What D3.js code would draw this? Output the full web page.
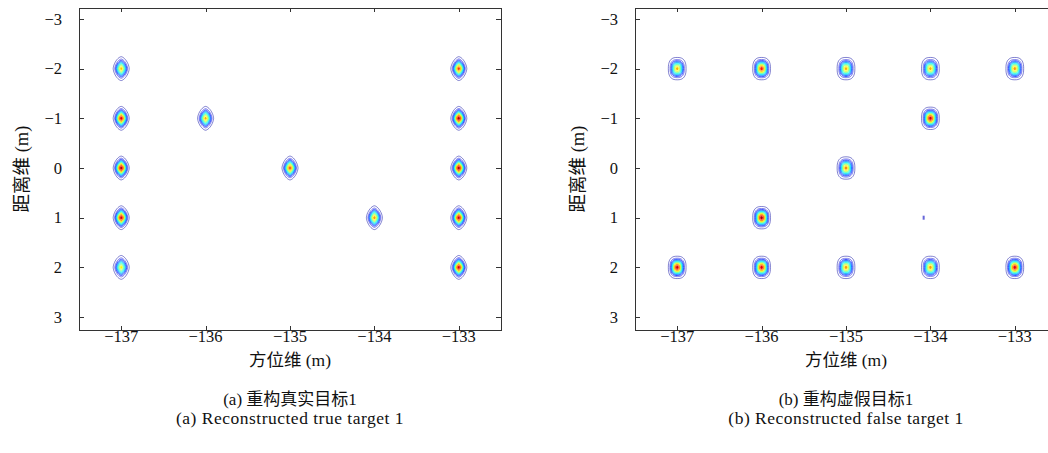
<!DOCTYPE html>
<html><head><meta charset="utf-8">
<script src="https://cdn.jsdelivr.net/npm/d3@7"></script>
<style>body{margin:0;background:#fff} svg{display:block}</style></head>
<body>
<svg id="c" width="1048" height="453"></svg>
<script>
// ---- data ----
const xTicks = [-137, -136, -135, -134, -133];
const yTicks = [-3, -2, -1, 0, 1, 2, 3];
const xDomain = [-137.5, -132.5];
const yDomain = [-3.22, 3.26];

const trueX = [-137, -137, -137, -137, -137, -136, -135, -134, -133, -133, -133, -133, -133];
const trueY = [-2, -1, 0, 1, 2, -1, 0, 1, -2, -1, 0, 1, 2];
const truePeak = [0.68, 0.9, 0.95, 0.92, 0.62, 0.7, 0.8, 0.72, 0.82, 0.95, 0.95, 0.93, 0.92];

const falseX = [-137, -136, -135, -134, -133, -134, -135, -136, -137, -136, -135, -134, -133];
const falseY = [-2, -2, -2, -2, -2, -1, 0, 1, 2, 2, 2, 2, 2];
const falsePeak = [0.7, 0.85, 0.7, 0.7, 0.72, 0.92, 0.74, 0.95, 0.92, 0.9, 0.72, 0.72, 0.9];

const spurX = [-134.08];
const spurY = [1.0];

const contourLevels = [0.03, 0.09, 0.15, 0.21, 0.27, 0.33, 0.39, 0.45, 0.51, 0.57, 0.63, 0.69, 0.75, 0.81, 0.87, 0.93];

const yLabel = "距离维 (m)";
const xLabel = "方位维 (m)";
const captionsCN = ["(a) 重构真实目标1", "(b) 重构虚假目标1"];
const captionsEN = ["(a) Reconstructed true target 1", "(b) Reconstructed false target 1"];

// ---- drawing ----
const svg = d3.select("#c");
const serif = "'Liberation Serif', 'Noto Sans CJK SC', serif";
const jet = d3.scaleLinear()
  .domain([0, 0.125, 0.375, 0.625, 0.875, 1])
  .range(["#00007f", "#0000ff", "#00ffff", "#ffff00", "#ff0000", "#7f0000"]);

function fmt(v) { return v < 0 ? "\u2212" + Math.abs(v) : String(v); }

function blobPath(cx, cy, rx, ry, n) {
  const pts = d3.range(0, 48).map(i => {
    const a = i / 48 * 2 * Math.PI;
    const c = Math.cos(a), s = Math.sin(a);
    return [cx + rx * Math.sign(c) * Math.pow(Math.abs(c), 2 / n),
            cy + ry * Math.sign(s) * Math.pow(Math.abs(s), 2 / n)];
  });
  return d3.line().curve(d3.curveLinearClosed)(pts);
}

function panel(x0, x1, idx, X, Y, P, shapeN, rxU, ryU) {
  const x = d3.scaleLinear().domain(xDomain).range([x0, x1]);
  const y = d3.scaleLinear().domain(yDomain).range([8, 330]);
  const g = svg.append("g");

  // blobs (contour lines of each peak)
  X.forEach((xv, i) => {
    const cx = x(xv), cy = y(Y[i]);
    const rx = x(xv + rxU) - cx, ry = y(Y[i] + ryU) - cy;
    const peak = P[i];
    const norm = Math.sqrt(Math.log(peak / contourLevels[0]));
    contourLevels.filter(v => v < peak).forEach(v => {
      const r = Math.sqrt(Math.log(peak / v)) / norm;
      g.append("path").attr("d", blobPath(cx, cy, rx * r, ry * r, shapeN))
        .attr("fill", "none").attr("stroke", jet(v))
        .attr("stroke-width", 0.75).attr("stroke-opacity", v < 0.1 ? 0.65 : 1);
    });
    g.append("path").attr("d", blobPath(cx, cy, rx * 0.12, ry * 0.12, shapeN))
      .attr("fill", jet(peak)).attr("stroke", "none");
  });

  // frame
  const ax = g.append("g").attr("stroke", "#333").attr("stroke-width", 1).attr("fill", "none");
  ax.append("rect").attr("x", x0 + 0.5).attr("y", 8.5).attr("width", x1 - x0).attr("height", 322);
  xTicks.forEach(v => {
    const px = Math.round(x(v)) + 0.5;
    ax.append("line").attr("x1", px).attr("x2", px).attr("y1", 330).attr("y2", 326);
    ax.append("line").attr("x1", px).attr("x2", px).attr("y1", 8).attr("y2", 12);
  });
  yTicks.forEach(v => {
    const py = Math.round(y(v)) + 0.5;
    ax.append("line").attr("x1", x0).attr("x2", x0 + 5).attr("y1", py).attr("y2", py);
    ax.append("line").attr("x1", x1).attr("x2", x1 - 5).attr("y1", py).attr("y2", py);
  });

  // tick labels
  const tl = g.append("g").attr("font-family", serif).attr("font-size", 16.5).attr("fill", "#111");
  xTicks.forEach(v => {
    tl.append("text").attr("x", x(v)).attr("y", 342).attr("text-anchor", "middle").text(fmt(v));
  });
  yTicks.forEach(v => {
    tl.append("text").attr("x", x0 - 17).attr("y", y(v)).attr("dy", "0.35em")
      .attr("text-anchor", "end").text(fmt(v));
  });

  // labels
  const cxm = (x0 + x0 + 422) / 2;
  const lt = g.append("g").attr("font-family", serif).attr("fill", "#111");
  lt.append("text").attr("x", cxm).attr("y", 366).attr("text-anchor", "middle")
    .attr("font-size", 17.5).text(xLabel);
  lt.append("text").attr("transform", `translate(${x0 - 51},169) rotate(-90)`)
    .attr("text-anchor", "middle").attr("font-size", 18.5).text(yLabel);
  lt.append("text").attr("x", cxm).attr("y", 405).attr("text-anchor", "middle")
    .attr("font-size", 17).text(captionsCN[idx]);
  lt.append("text").attr("x", cxm).attr("y", 424).attr("text-anchor", "middle")
    .attr("font-size", 17.5).attr("letter-spacing", 0.5).text(captionsEN[idx]);
  return {x, y, g};
}

panel(79, 501, 0, trueX, trueY, truePeak, 1.6, 0.095, 0.24);
const p2 = panel(635, 1057, 1, falseX, falseY, falsePeak, 2.6, 0.105, 0.225);
spurX.forEach((v, i) => {
  p2.g.append("rect").attr("x", p2.x(v) - 1).attr("y", p2.y(spurY[i]) - 2)
    .attr("width", 2).attr("height", 4).attr("fill", "#4040d0").attr("opacity", 0.8);
});
</script>
</body></html>
